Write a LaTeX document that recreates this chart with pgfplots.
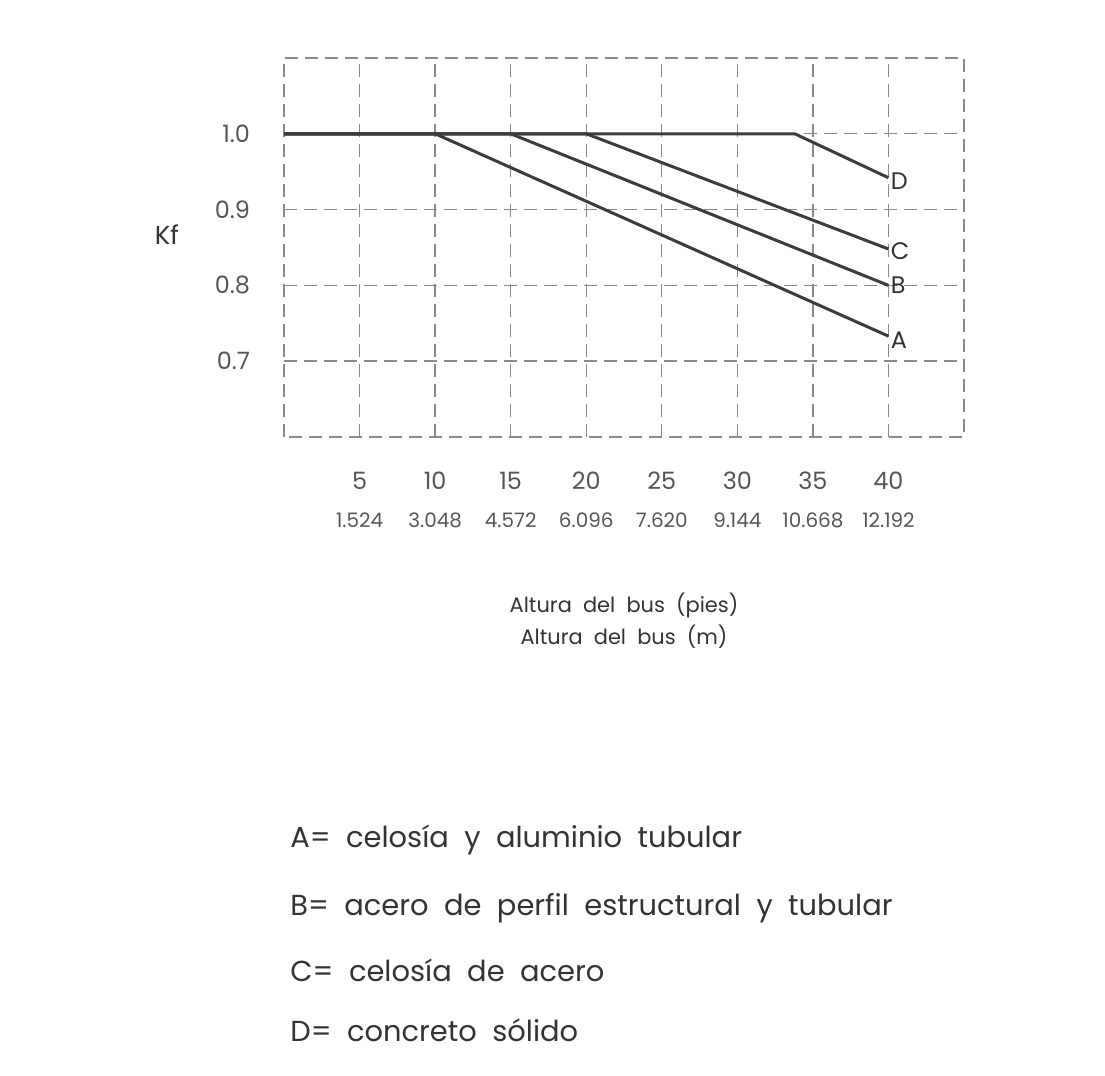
\documentclass[border=0pt]{standalone}
\usepackage{pgfplots}
\pgfplotsset{compat=1.18}
\usepackage{fontspec}
\setmainfont{Poppins}
\definecolor{gridc}{HTML}{8A8A8A}
\definecolor{linec}{HTML}{3C3C3C}
\definecolor{txt}{HTML}{555555}
\definecolor{txtd}{HTML}{333333}
\newcommand{\xl}[2]{{\fontsize{12}{12}\selectfont #1}\\[7bp]{\fontsize{10}{10}\selectfont #2}}
\begin{document}
\begin{tikzpicture}[x=0.5bp,y=0.5bp]
\path (0,0) rectangle (1105,1076);
\begin{axis}[
  at={(142bp,319.5bp)}, anchor=south west,
  width=340bp, height=189.5bp, scale only axis,
  xmin=0, xmax=45, ymin=0.6, ymax=1.1,
  xtick={5,10,...,40}, ytick={0.7,0.8,0.9,1.0},
  xticklabels={\xl{5}{1.524},\xl{10}{3.048},\xl{15}{4.572},\xl{20}{6.096},\xl{25}{7.620},\xl{30}{9.144},\xl{35}{10.668},\xl{40}{12.192}},
  yticklabels={0.7,0.8,0.9,1.0},
  xticklabel style={align=center, anchor=north, yshift=-14bp, text=txt},
  yticklabel style={anchor=east, xshift=-13.5bp, text=txt, font=\fontsize{12}{12}\selectfont},
  major tick length=0pt,
  grid=major,
  grid style={gridc, dash pattern=on 6.5bp off 3.5bp, line width=0.7bp},
  axis line style={gridc, dash pattern=on 6.5bp off 3.5bp, line width=0.7bp},
  clip=false,
]
\addplot[linec, line width=1.5bp] coordinates {(0,1.0) (10,1.0) (40,0.733)};
\addplot[linec, line width=1.5bp] coordinates {(0,1.0) (15,1.0) (40,0.800)};
\addplot[linec, line width=1.5bp] coordinates {(0,1.0) (20,1.0) (40,0.848)};
\addplot[linec, line width=1.5bp] coordinates {(0,1.0) (33.8,1.0) (40,0.942)};
\node[anchor=west, txtd, font=\fontsize{12}{12}\selectfont, inner sep=1bp] at (axis cs:40,0.728) {A};
\node[anchor=west, txtd, font=\fontsize{12}{12}\selectfont, inner sep=1bp] at (axis cs:40,0.800) {B};
\node[anchor=west, txtd, font=\fontsize{12}{12}\selectfont, inner sep=1bp] at (axis cs:40,0.845) {C};
\node[anchor=west, txtd, font=\fontsize{12}{12}\selectfont, inner sep=1bp] at (axis cs:40,0.937) {D};
\end{axis}
\node[txtd, font=\fontsize{13}{13}\selectfont] at (167,841) {Kf};
\node[txtd, font=\fontsize{10.5}{10.5}\selectfont] at (624,471) {Altura\ \ del\ \ bus\ \ (pies)};
\node[txtd, font=\fontsize{10.5}{10.5}\selectfont] at (624,439) {Altura\ \ del\ \ bus\ \ (m)};
\begin{scope}[every node/.style={anchor=west, txtd, font=\fontsize{14.5}{14.5}\selectfont, inner sep=0pt}]
\node at (290,236) {A=\ \ celosía\ \ y\ \ aluminio\ \ tubular};
\node at (290,168) {B=\ \ acero\ \ de\ \ perfil\ \ estructural\ \ y\ \ tubular};
\node at (290,106) {C=\ \ celosía\ \ de\ \ acero};
\node at (290,46) {D=\ \ concreto\ \ sólido};
\end{scope}
\end{tikzpicture}
\end{document}
